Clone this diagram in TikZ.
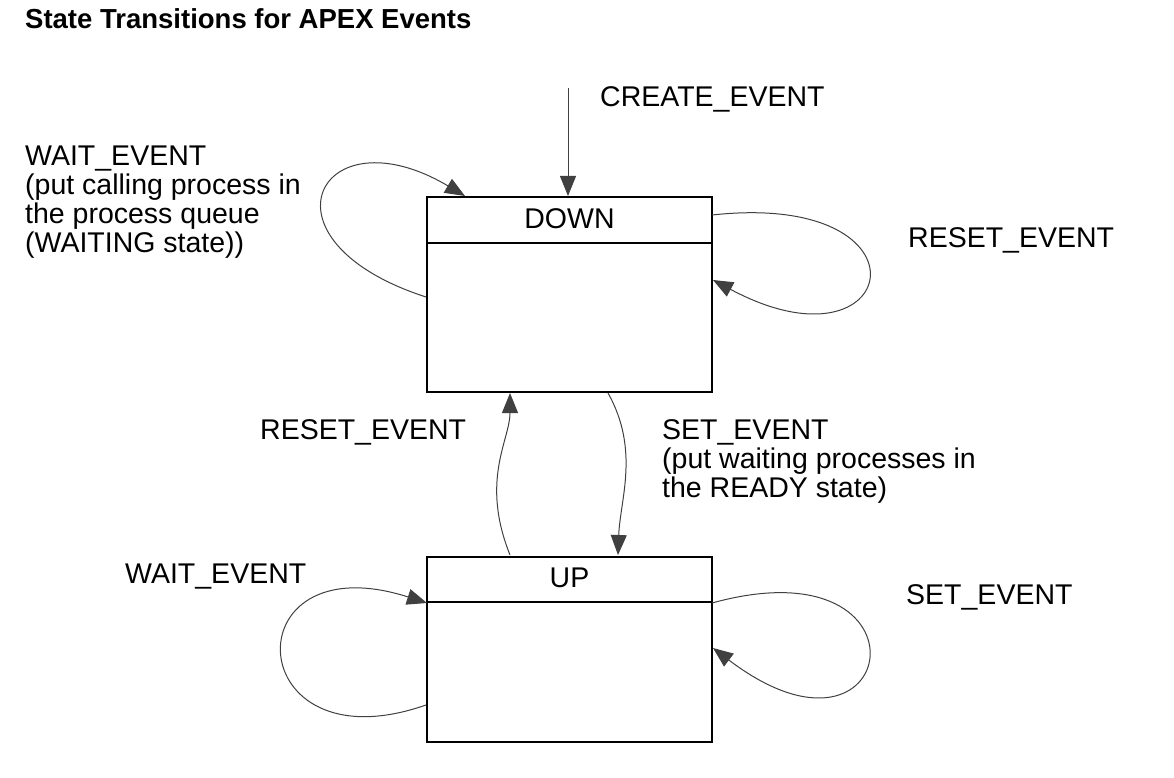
\documentclass[tikz,border=0pt]{standalone}
\usepackage{fontspec}
\setmainfont{Liberation Sans}
\usetikzlibrary{arrows.meta}
\begin{document}
\begin{tikzpicture}[x=1pt,y=-1pt,
  lbl/.style={anchor=north west,inner sep=0pt,font=\fontsize{28.5}{29}\selectfont,align=left},
  box/.style={draw,line width=1.5pt},
  arr/.style={-{Triangle[length=20pt,width=16pt]},line width=1pt,draw=black!75}]
\useasboundingbox (0,0) rectangle (1174,778);
\node[lbl,font=\bfseries\fontsize{27.5}{29}\selectfont] (title) at (25,8) {State Transitions for APEX Events};
% boxes
\node[box,minimum width=285pt,minimum height=195pt,inner sep=0pt] (down) at (569.5,294.5) {};
\draw[line width=1.5pt] (427,243) -- (712,243);
\node[lbl,anchor=center] (downl) at (569.5,219) {DOWN};
\node[box,minimum width=285pt,minimum height=185pt,inner sep=0pt] (up) at (569.5,649.5) {};
\draw[line width=1.5pt] (427,602) -- (712,602);
\node[lbl,anchor=center] (upl) at (569.5,578) {UP};
% create
\coordinate (cs) at (568,88);
\draw[arr] (cs) -- (568,196);
\node[lbl] (ce) at (600,86) {CREATE\_EVENT};
% wait loop down
\draw[arr] (426,297) .. controls (250,240) and (320,110) .. (465,196);
\node[lbl] (we1) at (25,146) {WAIT\_EVENT\\(put calling process in\\the process queue\\(WAITING state))};
% reset loop down
\draw[arr] (712,215) .. controls (940,190) and (900,380) .. (713,280);
\node[lbl] (re1) at (908,227) {RESET\_EVENT};
% reset up->down
\draw[arr] (510,555) .. controls (480,480) and (510,440) .. (510,393);
\node[lbl] (re2) at (260,419) {RESET\_EVENT};
% set down->up
\draw[arr] (608,393) .. controls (640,450) and (620,500) .. (618,555);
\node[lbl] (se1) at (662,419) {SET\_EVENT\\(put waiting processes in\\the READY state)};
% wait loop up
\draw[arr] (426,705) .. controls (240,770) and (230,540) .. (427,603);
\node[lbl] (we2) at (125,564) {WAIT\_EVENT};
% set loop up
\draw[arr] (712,603) .. controls (940,540) and (900,790) .. (713,648);
\node[lbl] (se2) at (906,584) {SET\_EVENT};
\end{tikzpicture}
\end{document}
